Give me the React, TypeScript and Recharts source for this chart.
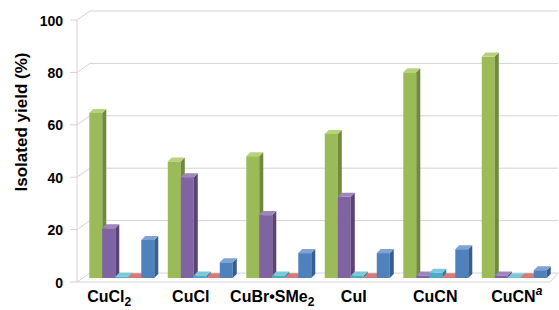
import React from "react";
import { BarChart, Bar, XAxis, YAxis, CartesianGrid } from "recharts";

const categories = ["CuCl2", "CuCl", "CuBr•SMe2", "CuI", "CuCN", "CuCNa"];
const labelMain = ["CuCl", "CuCl", "CuBr•SMe", "CuI", "CuCN", "CuCN"];
const labelSub = ["2", "", "2", "", "", ""];
const labelSup = ["", "", "", "", "", "a"];

const seriesA = [63, 44.5, 46.5, 55, 78.5, 84.5];
const seriesB = [19, 38.5, 24, 31, 1, 1];
const seriesC = [0.5, 1, 1, 1, 2, 0.3];
const seriesD = [0.3, 0.3, 0.3, 0.3, 0.3, 0.3];
const seriesE = [14.5, 6, 9.5, 9.5, 11, 3];

const yTicks = [0, 20, 40, 60, 80, 100];

const SERIES = [
  { key: "a", values: seriesA, front: "#9BBB59", side: "#6E8A3A", top: "#B7D27C" },
  { key: "b", values: seriesB, front: "#8064A2", side: "#5A4477", top: "#9D86BC" },
  { key: "c", values: seriesC, front: "#4BACC6", side: "#32809A", top: "#7CC8DC" },
  { key: "d", values: seriesD, front: "#C0504D", side: "#8E3633", top: "#D87A77" },
  { key: "e", values: seriesE, front: "#4F81BD", side: "#365F91", top: "#7FA3D3" },
];

const data = categories.map((c, i) => {
  const row: any = { name: c };
  SERIES.forEach((s) => (row[s.key] = s.values[i]));
  return row;
});

const FONT = "'Liberation Sans', Arial, sans-serif";
const GRID = "#D4D4D4";
const DX = 4;
const DY = 4;

function Bar3D(props: any) {
  const { x, y, width, height, front, side, top } = props;
  if (x == null || y == null) return null;
  const h = Math.max(height, 0);
  return (
    <g>
      <rect x={x} y={y} width={width} height={h} fill={front} />
      <polygon
        points={`${x + width},${y} ${x + width + DX},${y - DY} ${x + width + DX},${y + h - DY} ${x + width},${y + h}`}
        fill={side}
      />
      <polygon
        points={`${x},${y} ${x + DX},${y - DY} ${x + width + DX},${y - DY} ${x + width},${y}`}
        fill={top}
      />
    </g>
  );
}

function gridLine(p: any) {
  const y = p.y1;
  const front = y + 4;
  const back = y - 5;
  const isTop = Math.abs(y - p.y) < 0.5;
  const isBottom = Math.abs(y - (p.y + p.height)) < 0.5;
  return (
    <g key={p.key}>
      <line x1={70} y1={front} x2={77} y2={front} stroke={GRID} />
      <line x1={77} y1={front} x2={90} y2={back} stroke={GRID} />
      <line x1={90} y1={back} x2={558} y2={back} stroke={GRID} />
      {isTop && <line x1={77} y1={front} x2={77} y2={p.y + p.height + 4} stroke={GRID} />}
      {isBottom && (
        <>
          <line x1={77} y1={front} x2={550} y2={front} stroke={GRID} />
          <line x1={550} y1={front} x2={558} y2={back} stroke={GRID} />
        </>
      )}
    </g>
  );
}

function YTick(props: any) {
  const { y, payload } = props;
  return (
    <text x={63} y={y + 4.5} textAnchor="end" dominantBaseline="central"
      fontFamily={FONT} fontWeight="bold" fontSize={14} fill="#000">
      {payload.value}
    </text>
  );
}

function XTick(props: any) {
  const { x, y, payload, index } = props;
  const i = index ?? categories.indexOf(payload.value);
  return (
    <text x={x - 13 + i * 3} y={y + 16} textAnchor="middle"
      fontFamily={FONT} fontWeight="bold" fontSize={16} fill="#000">
      <tspan>{labelMain[i]}</tspan>
      {labelSub[i] && <tspan fontSize={12} dy={4}>{labelSub[i]}</tspan>}
      {labelSup[i] && <tspan fontSize={12} fontStyle="italic" dy={-7}>{labelSup[i]}</tspan>}
    </text>
  );
}

export default function App() {
  return (
    <div style={{ position: "absolute", left: 0, top: 0, background: "#fff" }}>
      <BarChart width={559} height={310} data={data}
        margin={{ top: 16, right: 5, bottom: 0, left: 0 }}
        barGap={0} barCategoryGap="8%">
        <CartesianGrid vertical={false} horizontal={gridLine} />
        <XAxis dataKey="name" height={32} axisLine={false} tickLine={false} tick={<XTick />} interval={0} />
        <YAxis width={83} domain={[0, 100]} ticks={yTicks} axisLine={false} tickLine={false} tick={<YTick />}
          label={{
            content: () => (
              <text x={21} y={122} transform="rotate(-90 21 122)" textAnchor="middle" dominantBaseline="central"
                fontFamily={FONT} fontWeight="bold" fontSize={17} fill="#000">
                Isolated yield (%)
              </text>
            ),
          }}
        />
        {SERIES.map((s) => (
          <Bar key={s.key} dataKey={s.key} isAnimationActive={false}
            shape={(p: any) => <Bar3D {...p} front={s.front} side={s.side} top={s.top} />} />
        ))}
      </BarChart>
    </div>
  );
}
